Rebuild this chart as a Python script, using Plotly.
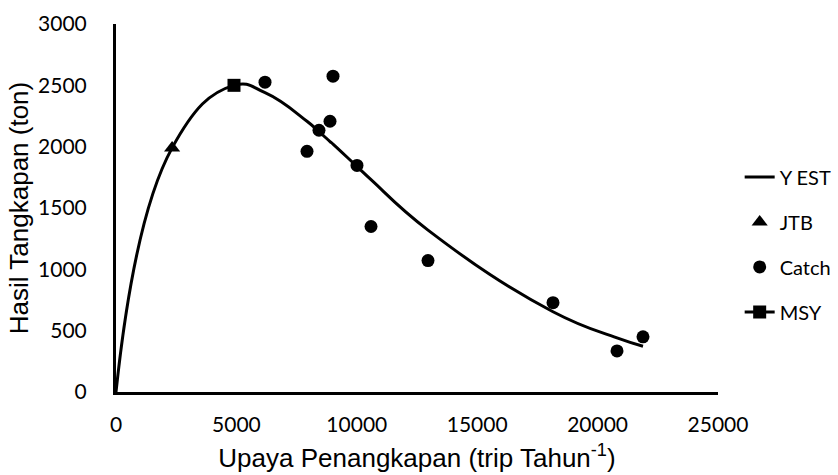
import plotly.graph_objects as go

# Observed catch vs. fishing effort
effort_catch = [6188, 7932, 8430, 8887, 9012, 10008, 10590, 12957, 18148, 20806, 21885]
catch_ton = [2526, 1962, 2134, 2207, 2575, 1847, 1349, 1071, 728, 335, 450]

# Estimated yield curve (Y EST) at sorted effort levels
effort_est = [0, 2330, 4900, 6188, 7932, 8430, 8887, 9012, 10008, 10590, 12957, 18148, 20806, 21885]
yield_est = [0, 1990, 2500, 2440, 2207, 2122, 2042, 2021, 1838, 1731, 1320, 654, 441, 373]

# Reference points
jtb_effort = [2330]
jtb_yield = [1990]
msy_effort = [4900]
msy_yield = [2500]

x_ticks = [0, 5000, 10000, 15000, 20000, 25000]
y_ticks = [0, 500, 1000, 1500, 2000, 2500, 3000]

tick_font = dict(family="Lato, Carlito, sans-serif", size=21, color="#000000")
title_font = dict(family="Liberation Sans, Arial, sans-serif", size=26, color="#000000")

fig = go.Figure()

fig.add_trace(go.Scatter(
    x=effort_est, y=yield_est, name="Y EST", mode="lines",
    line=dict(color="#000000", width=3, shape="spline", smoothing=1.3),
    legendgroup="a",
))
fig.add_trace(go.Scatter(
    x=jtb_effort, y=jtb_yield, name="JTB", mode="markers",
    marker=dict(symbol="triangle-up", size=14, color="#000000"),
    legendgroup="b",
))
fig.add_trace(go.Scatter(
    x=effort_catch, y=catch_ton, name="Catch", mode="markers",
    marker=dict(symbol="circle", size=13, color="#000000"),
    legendgroup="c",
))
fig.add_trace(go.Scatter(
    x=msy_effort, y=msy_yield, name="MSY", mode="lines+markers",
    line=dict(color="#000000", width=3),
    marker=dict(symbol="square", size=13, color="#000000"),
    legendgroup="d",
))

fig.update_layout(
    width=838, height=475,
    margin=dict(l=116, r=120, t=24, b=83, autoexpand=False),
    paper_bgcolor="#ffffff", plot_bgcolor="#ffffff",
    showlegend=True,
    legend=dict(
        x=1.036, y=0.401, xanchor="left", yanchor="middle",
        font=dict(family="Lato, Carlito, sans-serif", size=20, color="#000000"),
        tracegroupgap=16, bgcolor="rgba(0,0,0,0)",
    ),
    xaxis=dict(
        range=[0, 25000], tickvals=x_ticks, ticktext=[str(v) for v in x_ticks],
        showgrid=False, zeroline=False, showline=True, linecolor="#000000", linewidth=3,
        ticks="", tickfont=tick_font, ticklabelstandoff=12,
        title=dict(text="Upaya Penangkapan (trip Tahun<sup>-1</sup>)", font=title_font, standoff=14),
    ),
    yaxis=dict(
        range=[0, 3000], tickvals=y_ticks, ticktext=[str(v) for v in y_ticks],
        showgrid=False, zeroline=False, showline=True, linecolor="#000000", linewidth=3,
        ticks="", tickfont=tick_font, ticklabelstandoff=22,
        title=dict(text="Hasil Tangkapan (ton)", font=title_font, standoff=2),
    ),
)

fig.write_html("out.html")
